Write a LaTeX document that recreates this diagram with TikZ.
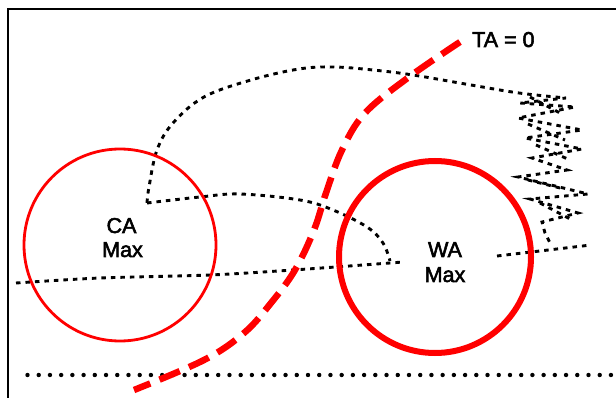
\documentclass[tikz,border=0pt]{standalone}
\usepackage{fontspec}
\setmainfont{Liberation Sans}
\newfontfamily\lblfont{Liberation Sans}[FakeBold=2.5]
\begin{document}
\begin{tikzpicture}[x=1pt,y=-1pt,
  frame/.style={draw=black,line width=2pt},
  redthin/.style={draw=red,line width=2.8pt},
  redthick/.style={draw=red,line width=6pt},
  reddash/.style={draw=red,line width=6.5pt,dash pattern=on 22pt off 10pt},
  dotline/.style={draw=black,line width=2.9pt,dash pattern=on 4.5pt off 5pt},
  dotrow/.style={draw=black,line width=4.4pt,line cap=round,dash pattern=on 0pt off 11.22pt},
  lbl/.style={font=\lblfont\fontsize{21.5}{24}\selectfont,inner sep=0pt,anchor=base}]
\useasboundingbox (0,0) rectangle (616,398);
% frame
\draw[frame] (8,402) -- (8,9) -- (620,9);
% named points
\coordinate (corner) at (147,203);
\coordinate (arcend) at (566,98);
\coordinate (coilend) at (550,243);
\coordinate (innerend) at (390,261);
\coordinate (longstart) at (16,283);
\coordinate (longend) at (402,262);
\coordinate (rstart) at (497,256);
\coordinate (rend) at (591,245);
\coordinate (rowstart) at (27.5,375);
\coordinate (rowend) at (615,375);
% dotted lines
\draw[dotline] plot[smooth,tension=0.6] coordinates {(147,203) (149,187) (157,150) (173,123) (204,97) (251,80) (299,69) (334,67) (373,70) (413,75) (471,85) (519,93) (566,98)}
  -- (520,103) -- (575,107) -- (518,118) -- (582,130) -- (525,138) -- (582,149)
  -- (532,158) -- (567,170) -- (518,177) -- (588,194) -- (530,199) -- (578,213)
  -- (542,222) -- (545,233) -- (coilend);
\draw[dotline] (530,97) -- (560,113) (528,124) -- (565,140) (536,145) -- (570,160)
  (528,180) -- (560,188) (540,203) -- (572,220);
\draw[dotline] plot[smooth,tension=0.6] coordinates {(147,203) (200,197) (240,194) (300,200) (333,210) (367,227) (383,243) (390,261)};
\draw[dotline] plot[smooth,tension=0.5] coordinates {(16,283) (100,278) (210,275) (293,270) (390,263) (402,262)};
\draw[dotline] (rstart) -- (rend);
\draw[dotrow] (rowstart) -- (rowend);
% circles
\node[circle,redthin,minimum size=192pt,inner sep=0pt] (ca) at (120,245) {};
\node[circle,redthick,minimum size=192pt,inner sep=0pt] (wa) at (435,257) {};
% TA = 0 curve
\draw[reddash] plot[smooth,tension=0.6] coordinates {(460,42) (409,77) (365,113) (342,150) (326,193) (314,230) (295,270) (271,303) (244,333) (204,360) (134,390)};
% labels
\node[lbl] (ca1) at (121.5,233) {CA};
\node[lbl] (ca2) at (122.5,257) {Max};
\node[lbl] (wa1) at (445,257) {WA};
\node[lbl] (wa2) at (445,282) {Max};
\node[lbl,anchor=base west] (ta) at (472,47) {TA = 0};
\end{tikzpicture}
\end{document}
